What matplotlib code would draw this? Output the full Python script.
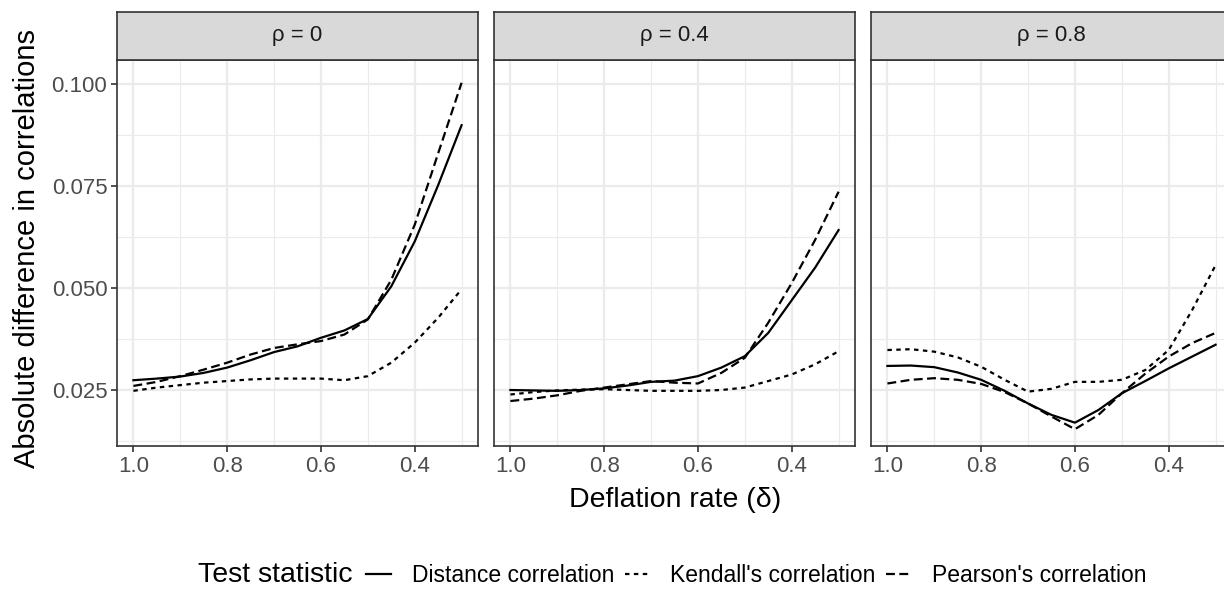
import matplotlib
matplotlib.use("Agg")
import matplotlib.pyplot as plt
from matplotlib.lines import Line2D
from matplotlib.ticker import MultipleLocator

plt.rcParams["font.family"] = ["Liberation Sans", "DejaVu Sans"]

# ── Data ─────────────────────────────────────────────────────
delta = [1.0, 0.95, 0.9, 0.85, 0.8, 0.75, 0.7, 0.65, 0.6, 0.55, 0.5, 0.45, 0.4, 0.35, 0.3]
rho_labels = ["0", "0.4", "0.8"]

distance = [
    [0.0274, 0.0278, 0.0283, 0.0292, 0.0305, 0.0323, 0.0343, 0.0357, 0.0378, 0.0396, 0.0424, 0.0504, 0.0614, 0.0752, 0.0899],
    [0.0250, 0.0249, 0.0248, 0.0250, 0.0254, 0.0261, 0.0270, 0.0273, 0.0284, 0.0305, 0.0333, 0.0390, 0.0470, 0.0550, 0.0642],
    [0.0309, 0.0310, 0.0306, 0.0293, 0.0275, 0.0248, 0.0217, 0.0189, 0.0170, 0.0201, 0.0242, 0.0272, 0.0303, 0.0332, 0.0361],
]
kendall = [
    [0.0248, 0.0256, 0.0262, 0.0268, 0.0272, 0.0276, 0.0278, 0.0278, 0.0278, 0.0274, 0.0284, 0.0317, 0.0366, 0.0427, 0.0497],
    [0.0239, 0.0245, 0.0249, 0.0251, 0.0252, 0.0250, 0.0248, 0.0248, 0.0248, 0.0250, 0.0256, 0.0272, 0.0288, 0.0313, 0.0345],
    [0.0348, 0.0350, 0.0344, 0.0330, 0.0307, 0.0275, 0.0246, 0.0253, 0.0270, 0.0270, 0.0275, 0.0299, 0.0348, 0.0446, 0.0556],
]
pearson = [
    [0.0260, 0.0270, 0.0284, 0.0300, 0.0317, 0.0337, 0.0353, 0.0362, 0.0370, 0.0386, 0.0423, 0.0520, 0.0655, 0.0830, 0.1003],
    [0.0223, 0.0229, 0.0237, 0.0248, 0.0256, 0.0264, 0.0272, 0.0268, 0.0266, 0.0292, 0.0329, 0.0415, 0.0512, 0.0618, 0.0736],
    [0.0266, 0.0275, 0.0279, 0.0275, 0.0265, 0.0245, 0.0217, 0.0185, 0.0154, 0.0189, 0.0242, 0.0290, 0.0332, 0.0365, 0.0390],
]
series_names = ["Distance correlation", "Kendall's correlation", "Pearson's correlation"]

# ── Styles ───────────────────────────────────────────────────
LS = ["-", (0, (2, 2)), (0, (4, 2))]
LW = 1.6
GRID = "#ebebeb"
BORDER = "#333333"

W, H = 1224, 589
fig = plt.figure(figsize=(W / 100, H / 100), dpi=100)

panel_left = [117, 494, 871]
panel_w = 361
top, bottom = 60, 446
strip_top = 12


def fx(px):
    return px / W


def fy(py):
    return 1 - py / H


for i in range(3):
    ax = fig.add_axes([fx(panel_left[i]), fy(bottom), panel_w / W, (bottom - top) / H])
    for ys, ls in zip([distance[i], kendall[i], pearson[i]], LS):
        ax.plot(delta, ys, color="black", linestyle=ls, lw=LW, zorder=3,
                solid_joinstyle="round")
    ax.set_xlim(1.035, 0.265)
    ax.set_ylim(0.01128, 0.10588)
    ax.xaxis.set_major_locator(MultipleLocator(0.2))
    ax.xaxis.set_minor_locator(MultipleLocator(0.1))
    ax.yaxis.set_major_locator(MultipleLocator(0.025))
    ax.yaxis.set_minor_locator(MultipleLocator(0.0125))
    ax.grid(which="major", color=GRID, lw=1.6, zorder=0)
    ax.grid(which="minor", color=GRID, lw=0.8, zorder=0)
    ax.set_axisbelow(True)
    for s in ax.spines.values():
        s.set_color(BORDER)
        s.set_linewidth(1.2)
    ax.tick_params(which="major", length=4, width=1.2, color=BORDER,
                   labelsize=16, labelcolor="#4d4d4d", pad=3)
    ax.tick_params(which="minor", length=0)
    ax.xaxis.set_major_formatter(plt.FuncFormatter(lambda v, p: f"{v:.1f}"))
    if i == 0:
        ax.yaxis.set_major_formatter(plt.FuncFormatter(lambda v, p: f"{v:.3f}"))
    else:
        ax.tick_params(axis="y", labelleft=False, length=0)

    # facet strip
    sax = fig.add_axes([fx(panel_left[i]), fy(top), panel_w / W, (top - strip_top) / H])
    sax.set_facecolor("#d9d9d9")
    sax.set_xticks([])
    sax.set_yticks([])
    for s in sax.spines.values():
        s.set_color(BORDER)
        s.set_linewidth(1.2)
    sax.text(0.5, 0.5, "\u03c1 = " + rho_labels[i], ha="center", va="center",
             fontsize=16, color="#1a1a1a", transform=sax.transAxes)

fig.text(fx(27), fy(249), "Absolute difference in correlations", rotation=90,
         ha="center", va="center", fontsize=21)
fig.text(fx(675), fy(500), "Deflation rate (\u03b4)", ha="center", va="center", fontsize=20.5)

# legend
fig.text(fx(198), fy(575), "Test statistic", ha="left", va="center", fontsize=20.5)
handles = [Line2D([], [], color="black", linestyle=ls, lw=LW) for ls in LS]
fig.legend(handles, series_names, ncol=3, loc="center left",
           bbox_to_anchor=(fx(366), fy(576)), frameon=False, fontsize=16.5,
           handlelength=1.1, handletextpad=0.9, columnspacing=0.45,
           borderaxespad=0, borderpad=0)

fig.savefig("out.png", dpi=100, facecolor="white")
